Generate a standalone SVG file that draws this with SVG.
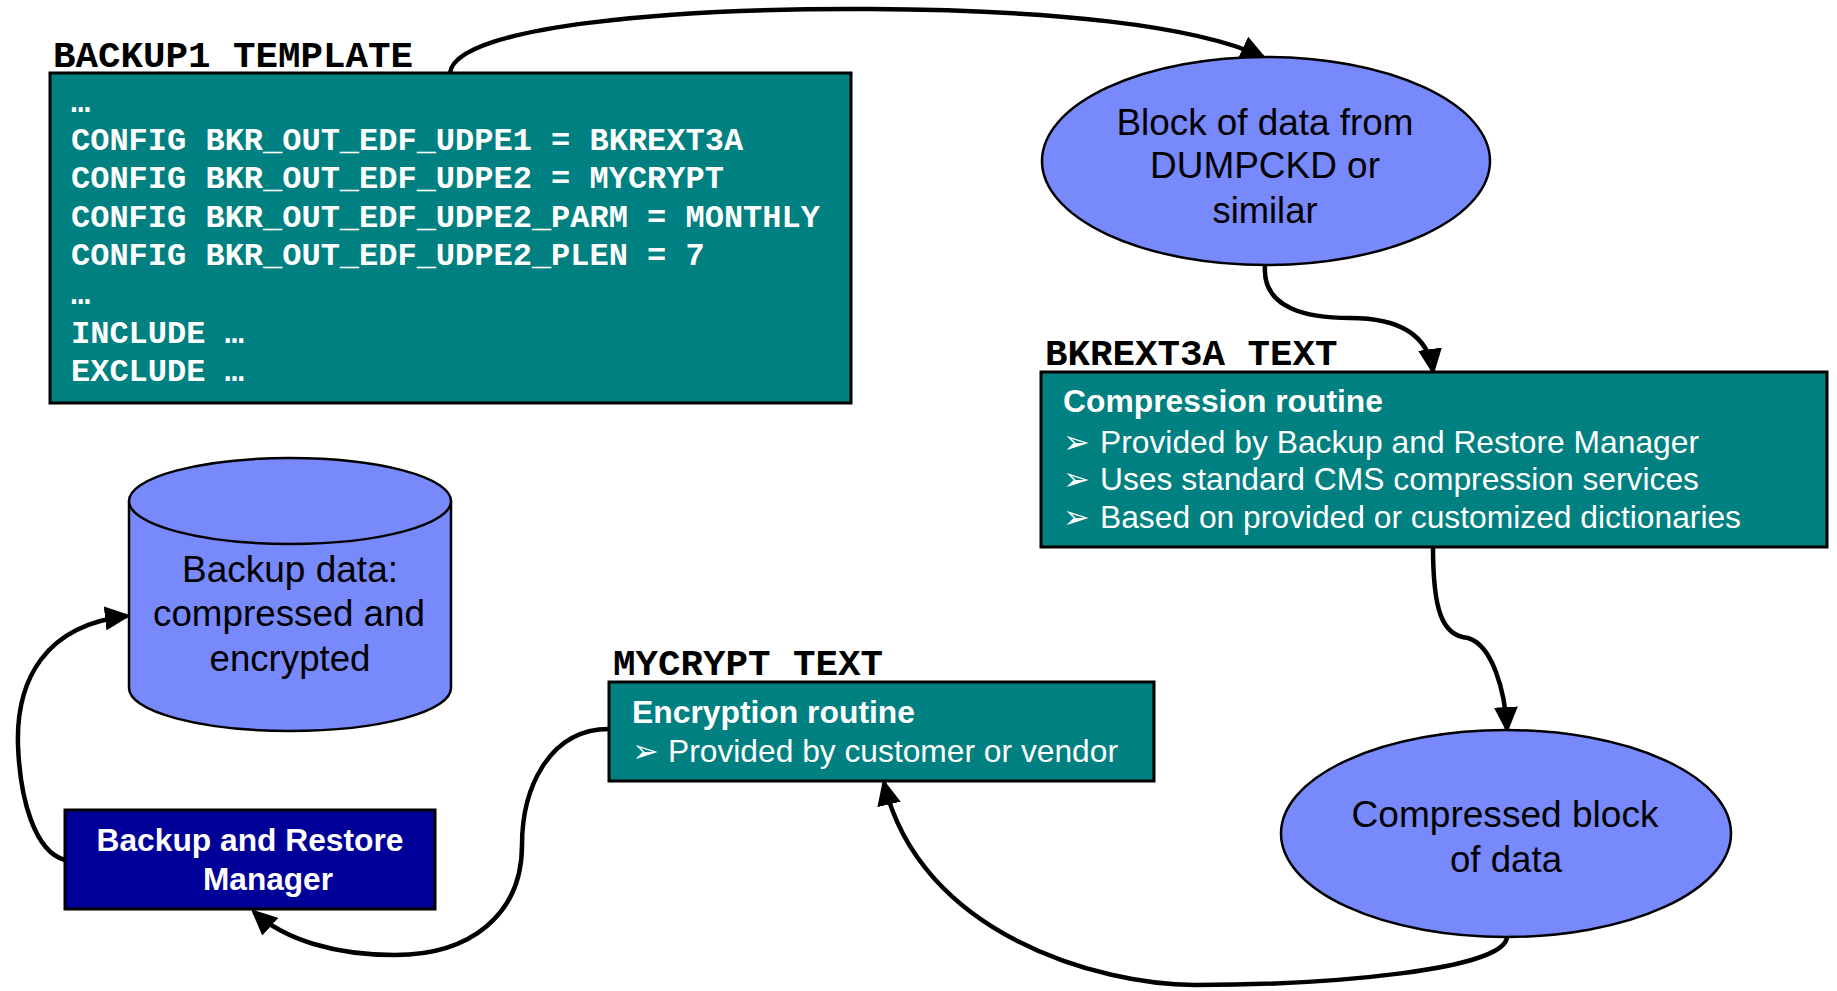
<svg xmlns="http://www.w3.org/2000/svg" width="1837" height="991" viewBox="0 0 1837 991">
  <style>
    .mono { font-family: "Liberation Mono", "Courier New", monospace; font-weight: bold; }
    .lbl { font-size: 37.5px; fill: #000; }
    .code { font-size: 32px; fill: #fff; }
    .sans { font-family: "Liberation Sans", Arial, sans-serif; }
    .etxt { font-size: 36.5px; fill: #000; text-anchor: middle; }
    .head { font-size: 31.5px; font-weight: bold; fill: #fff; }
    .bul { font-size: 32px; fill: #fff; }
    .mark { font-family: "DejaVu Sans", sans-serif; font-size: 32px; fill: #fff; }
    .brm { font-size: 31.5px; font-weight: bold; fill: #fff; text-anchor: middle; }
    .teal { fill: #008080; stroke: #000; stroke-width: 3; }
    .blob { fill: #7789fb; stroke: #000; stroke-width: 2.5; }
    .conn { fill: none; stroke: #000; stroke-width: 4.5; marker-end: url(#ah); }
  </style>
  <defs>
    <marker id="ah" viewBox="0 0 26 24" refX="22" refY="12" markerWidth="26" markerHeight="24" markerUnits="userSpaceOnUse" orient="auto">
      <path d="M0,0 L26,12 L0,24 z" fill="#000"/>
    </marker>
  </defs>
  <rect width="1837" height="991" fill="#fff"/>

  <g id="connectors">
    <path class="conn" d="M450,73 C455,25 680,8 870,9 C1050,10 1195,25 1263,57"/>
    <path class="conn" d="M1265,266 C1262,310 1310,318 1350,318 C1400,318 1428,335 1433,371"/>
    <path class="conn" d="M1433,547 C1433,610 1442,636 1468,638 C1492,645 1505,690 1507,729"/>
    <path class="conn" d="M1507,937 C1505,970 1330,985 1195,985 C1100,985 920,935 884,783"/>
    <path class="conn" d="M609,729 C548,729 522,790 522,845 C522,915 470,955 395,955 C335,955 285,940 254,912"/>
    <path class="conn" d="M65,860 C35,852 20,800 18,745 C16,680 45,625 127,616"/>
  </g>

  <g id="backup1-template">
    <text class="mono lbl" x="53" y="67">BACKUP1 TEMPLATE</text>
    <rect class="teal" x="50" y="73" width="801" height="330"/>
    <text class="mono code" x="71" y="112">…</text>
    <text class="mono code" x="71" y="150">CONFIG BKR_OUT_EDF_UDPE1 = BKREXT3A</text>
    <text class="mono code" x="71" y="188">CONFIG BKR_OUT_EDF_UDPE2 = MYCRYPT</text>
    <text class="mono code" x="71" y="227">CONFIG BKR_OUT_EDF_UDPE2_PARM = MONTHLY</text>
    <text class="mono code" x="71" y="265">CONFIG BKR_OUT_EDF_UDPE2_PLEN = 7</text>
    <text class="mono code" x="71" y="304">…</text>
    <text class="mono code" x="71" y="343">INCLUDE …</text>
    <text class="mono code" x="71" y="381">EXCLUDE …</text>
  </g>

  <g id="block-of-data">
    <ellipse class="blob" cx="1266" cy="161" rx="224" ry="104"/>
    <text class="sans etxt" x="1265" y="135" textLength="297" lengthAdjust="spacingAndGlyphs">Block of data from</text>
    <text class="sans etxt" x="1265" y="178" textLength="230" lengthAdjust="spacingAndGlyphs">DUMPCKD or</text>
    <text class="sans etxt" x="1265" y="223" textLength="105" lengthAdjust="spacingAndGlyphs">similar</text>
  </g>

  <g id="bkrext3a-text">
    <text class="mono lbl" x="1045" y="365">BKREXT3A TEXT</text>
    <rect class="teal" x="1041" y="372" width="786" height="175"/>
    <text class="sans head" x="1063" y="412" textLength="320" lengthAdjust="spacingAndGlyphs">Compression routine</text>
    <text class="mark" x="1063" y="453">➢</text>
    <text class="sans bul" x="1100" y="453" textLength="599" lengthAdjust="spacingAndGlyphs">Provided by Backup and Restore Manager</text>
    <text class="mark" x="1063" y="490">➢</text>
    <text class="sans bul" x="1100" y="490" textLength="599" lengthAdjust="spacingAndGlyphs">Uses standard CMS compression services</text>
    <text class="mark" x="1063" y="528">➢</text>
    <text class="sans bul" x="1100" y="528" textLength="641" lengthAdjust="spacingAndGlyphs">Based on provided or customized dictionaries</text>
  </g>

  <g id="compressed-block">
    <ellipse class="blob" cx="1506" cy="833.5" rx="225" ry="103.5"/>
    <text class="sans etxt" x="1505" y="827" textLength="307" lengthAdjust="spacingAndGlyphs">Compressed block</text>
    <text class="sans etxt" x="1506" y="872" textLength="112" lengthAdjust="spacingAndGlyphs">of data</text>
  </g>

  <g id="mycrypt-text">
    <text class="mono lbl" x="613" y="675">MYCRYPT TEXT</text>
    <rect class="teal" x="609" y="682" width="545" height="99"/>
    <text class="sans head" x="632" y="723" textLength="283" lengthAdjust="spacingAndGlyphs">Encryption routine</text>
    <text class="mark" x="632" y="762">➢</text>
    <text class="sans bul" x="668" y="762" textLength="450" lengthAdjust="spacingAndGlyphs">Provided by customer or vendor</text>
  </g>

  <g id="backup-data">
    <path class="blob" d="M129,501 L129,688 A161,43 0 0 0 451,688 L451,501"/>
    <ellipse class="blob" cx="290" cy="501" rx="161" ry="43"/>
    <text class="sans etxt" x="290" y="582" textLength="216" lengthAdjust="spacingAndGlyphs">Backup data:</text>
    <text class="sans etxt" x="289" y="626" textLength="272" lengthAdjust="spacingAndGlyphs">compressed and</text>
    <text class="sans etxt" x="290" y="671" textLength="161" lengthAdjust="spacingAndGlyphs">encrypted</text>
  </g>

  <g id="backup-restore-manager">
    <rect x="65" y="810" width="370" height="99" fill="#000099" stroke="#000" stroke-width="3"/>
    <text class="sans brm" x="250" y="851" textLength="307" lengthAdjust="spacingAndGlyphs">Backup and Restore</text>
    <text class="sans brm" x="268" y="890" textLength="130" lengthAdjust="spacingAndGlyphs">Manager</text>
  </g>
</svg>
